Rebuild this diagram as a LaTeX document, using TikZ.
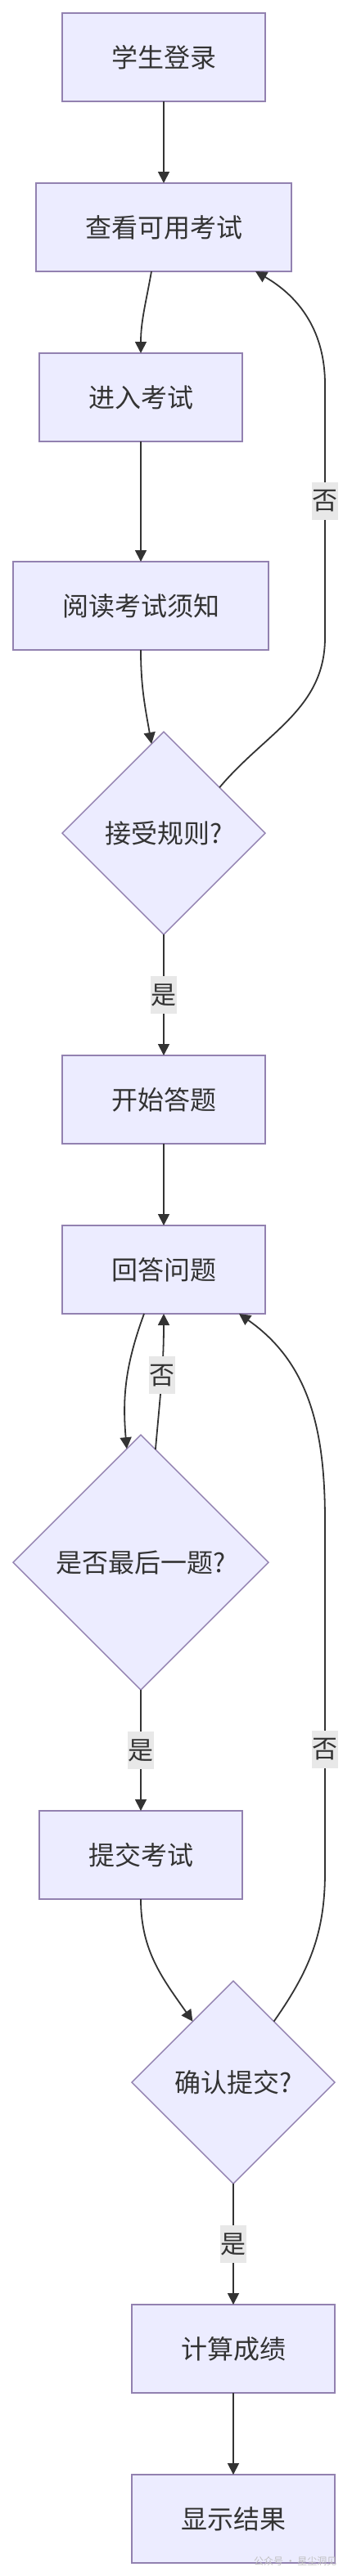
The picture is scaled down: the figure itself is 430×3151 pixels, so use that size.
\documentclass[tikz,border=0pt]{standalone}
\usepackage{fontspec}
\newfontfamily\cjk{Noto Sans CJK SC}
\usetikzlibrary{calc, arrows.meta, shapes.geometric}

\definecolor{boxfill}{HTML}{ECECFF}
\definecolor{boxline}{HTML}{9281B0}
\definecolor{edgeline}{HTML}{333333}
\definecolor{lblfill}{HTML}{E8E8E8}

\tikzset{
	proc/.style = {rectangle, draw=boxline, fill=boxfill, line width=1.8pt,
		minimum width=248pt, minimum height=108pt, inner sep=0pt, outer sep=0pt,
		text=edgeline, font=\cjk\fontsize{32}{38}\selectfont},
	decision/.style = {diamond, aspect=1, draw=boxline, fill=boxfill, line width=1.4pt,
		minimum width=248pt, minimum height=248pt, inner sep=0pt, outer sep=0pt,
		text=edgeline, font=\cjk\fontsize{32}{38}\selectfont},
	lbl/.style = {fill=lblfill, text=edgeline, minimum width=32pt, minimum height=46pt,
		inner sep=0pt, font=\cjk\fontsize{31}{36}\selectfont},
	arr/.style = {draw=edgeline, line width=1.8pt, -{Triangle[length=14pt, width=14pt]}},
}

\begin{document}
\begin{tikzpicture}[x=1pt, y=-1pt]
	\useasboundingbox (0,0) rectangle (430,3151);
	\def\railx{397};

	% nodes
	\node [proc] (login) at (200,70) {学生登录};
	\node [proc, minimum width=312pt] (browse) at (200,278) {查看可用考试};
	\node [proc] (enter) at (172,486) {进入考试};
	\node [proc, minimum width=312pt] (rules) at (172,741) {阅读考试须知};
	\node [decision] (accept) at (200,1019) {接受规则?};
	\node [proc] (start) at (200,1345) {开始答题};
	\node [proc] (answer) at (200,1553) {回答问题};
	\node [decision, minimum width=312pt, minimum height=312pt] (last) at (172,1911) {是否最后一题?};
	\node [proc] (submit) at (172,2269) {提交考试};
	\node [decision] (confirm) at (285,2547) {确认提交?};
	\node [proc] (score) at (285,2873) {计算成绩};
	\node [proc] (result) at (285,3081) {显示结果};

	\coordinate (railAlo) at (\railx,780);
	\coordinate (railAhi) at (\railx,470);
	\coordinate (railBlo) at (\railx,2290);
	\coordinate (railBhi) at (\railx,1860);

	% main flow
	\draw [arr] (login) -- (browse);
	\draw [arr] ($(browse.south)+(-15,0)$) to [out=-100, in=90] (enter.north);
	\draw [arr] (enter) -- (rules);
	\draw [arr] (rules.south) to [out=-90, in=100] ($(accept.north)!0.12!(accept.west)$);
	\draw [arr] (accept) -- node [lbl] {是} (start);
	\draw [arr] (start) -- (answer);
	\draw [arr] ($(answer.south)+(-24,0)$) to [out=-110, in=95] ($(last.north)!0.11!(last.west)$);
	\draw [arr] ($(last.north)!0.115!(last.east)$) to [out=85, in=-90] node [lbl, pos=0.55] {否} (answer.south);
	\draw [arr] (last) -- node [lbl] {是} (submit);
	\draw [arr] (submit.south) to [out=-90, in=125] ($(confirm.north)!0.4!(confirm.west)$);
	\draw [arr] (confirm) -- node [lbl] {是} (score);
	\draw [arr] (score) -- (result);

	% loops back
	\draw [arr] ($(accept.north)!0.55!(accept.east)$) to [out=50, in=-90] (railAlo)
		-- node [lbl, pos=0.54] {否} (railAhi)
		to [out=90, in=-30] ($(browse.south)+(112,0)$);
	\draw [arr] ($(confirm.north)!0.4!(confirm.east)$) to [out=55, in=-90] (railBlo)
		-- node [lbl, pos=0.35] {否} (railBhi)
		to [out=90, in=-35] ($(answer.south)+(92,0)$);

	\node [text=black!25, font=\cjk\fontsize{12}{14}\selectfont, anchor=east] (mark) at (415,3133) {公众号 · 星尘洞见};
\end{tikzpicture}
\end{document}
